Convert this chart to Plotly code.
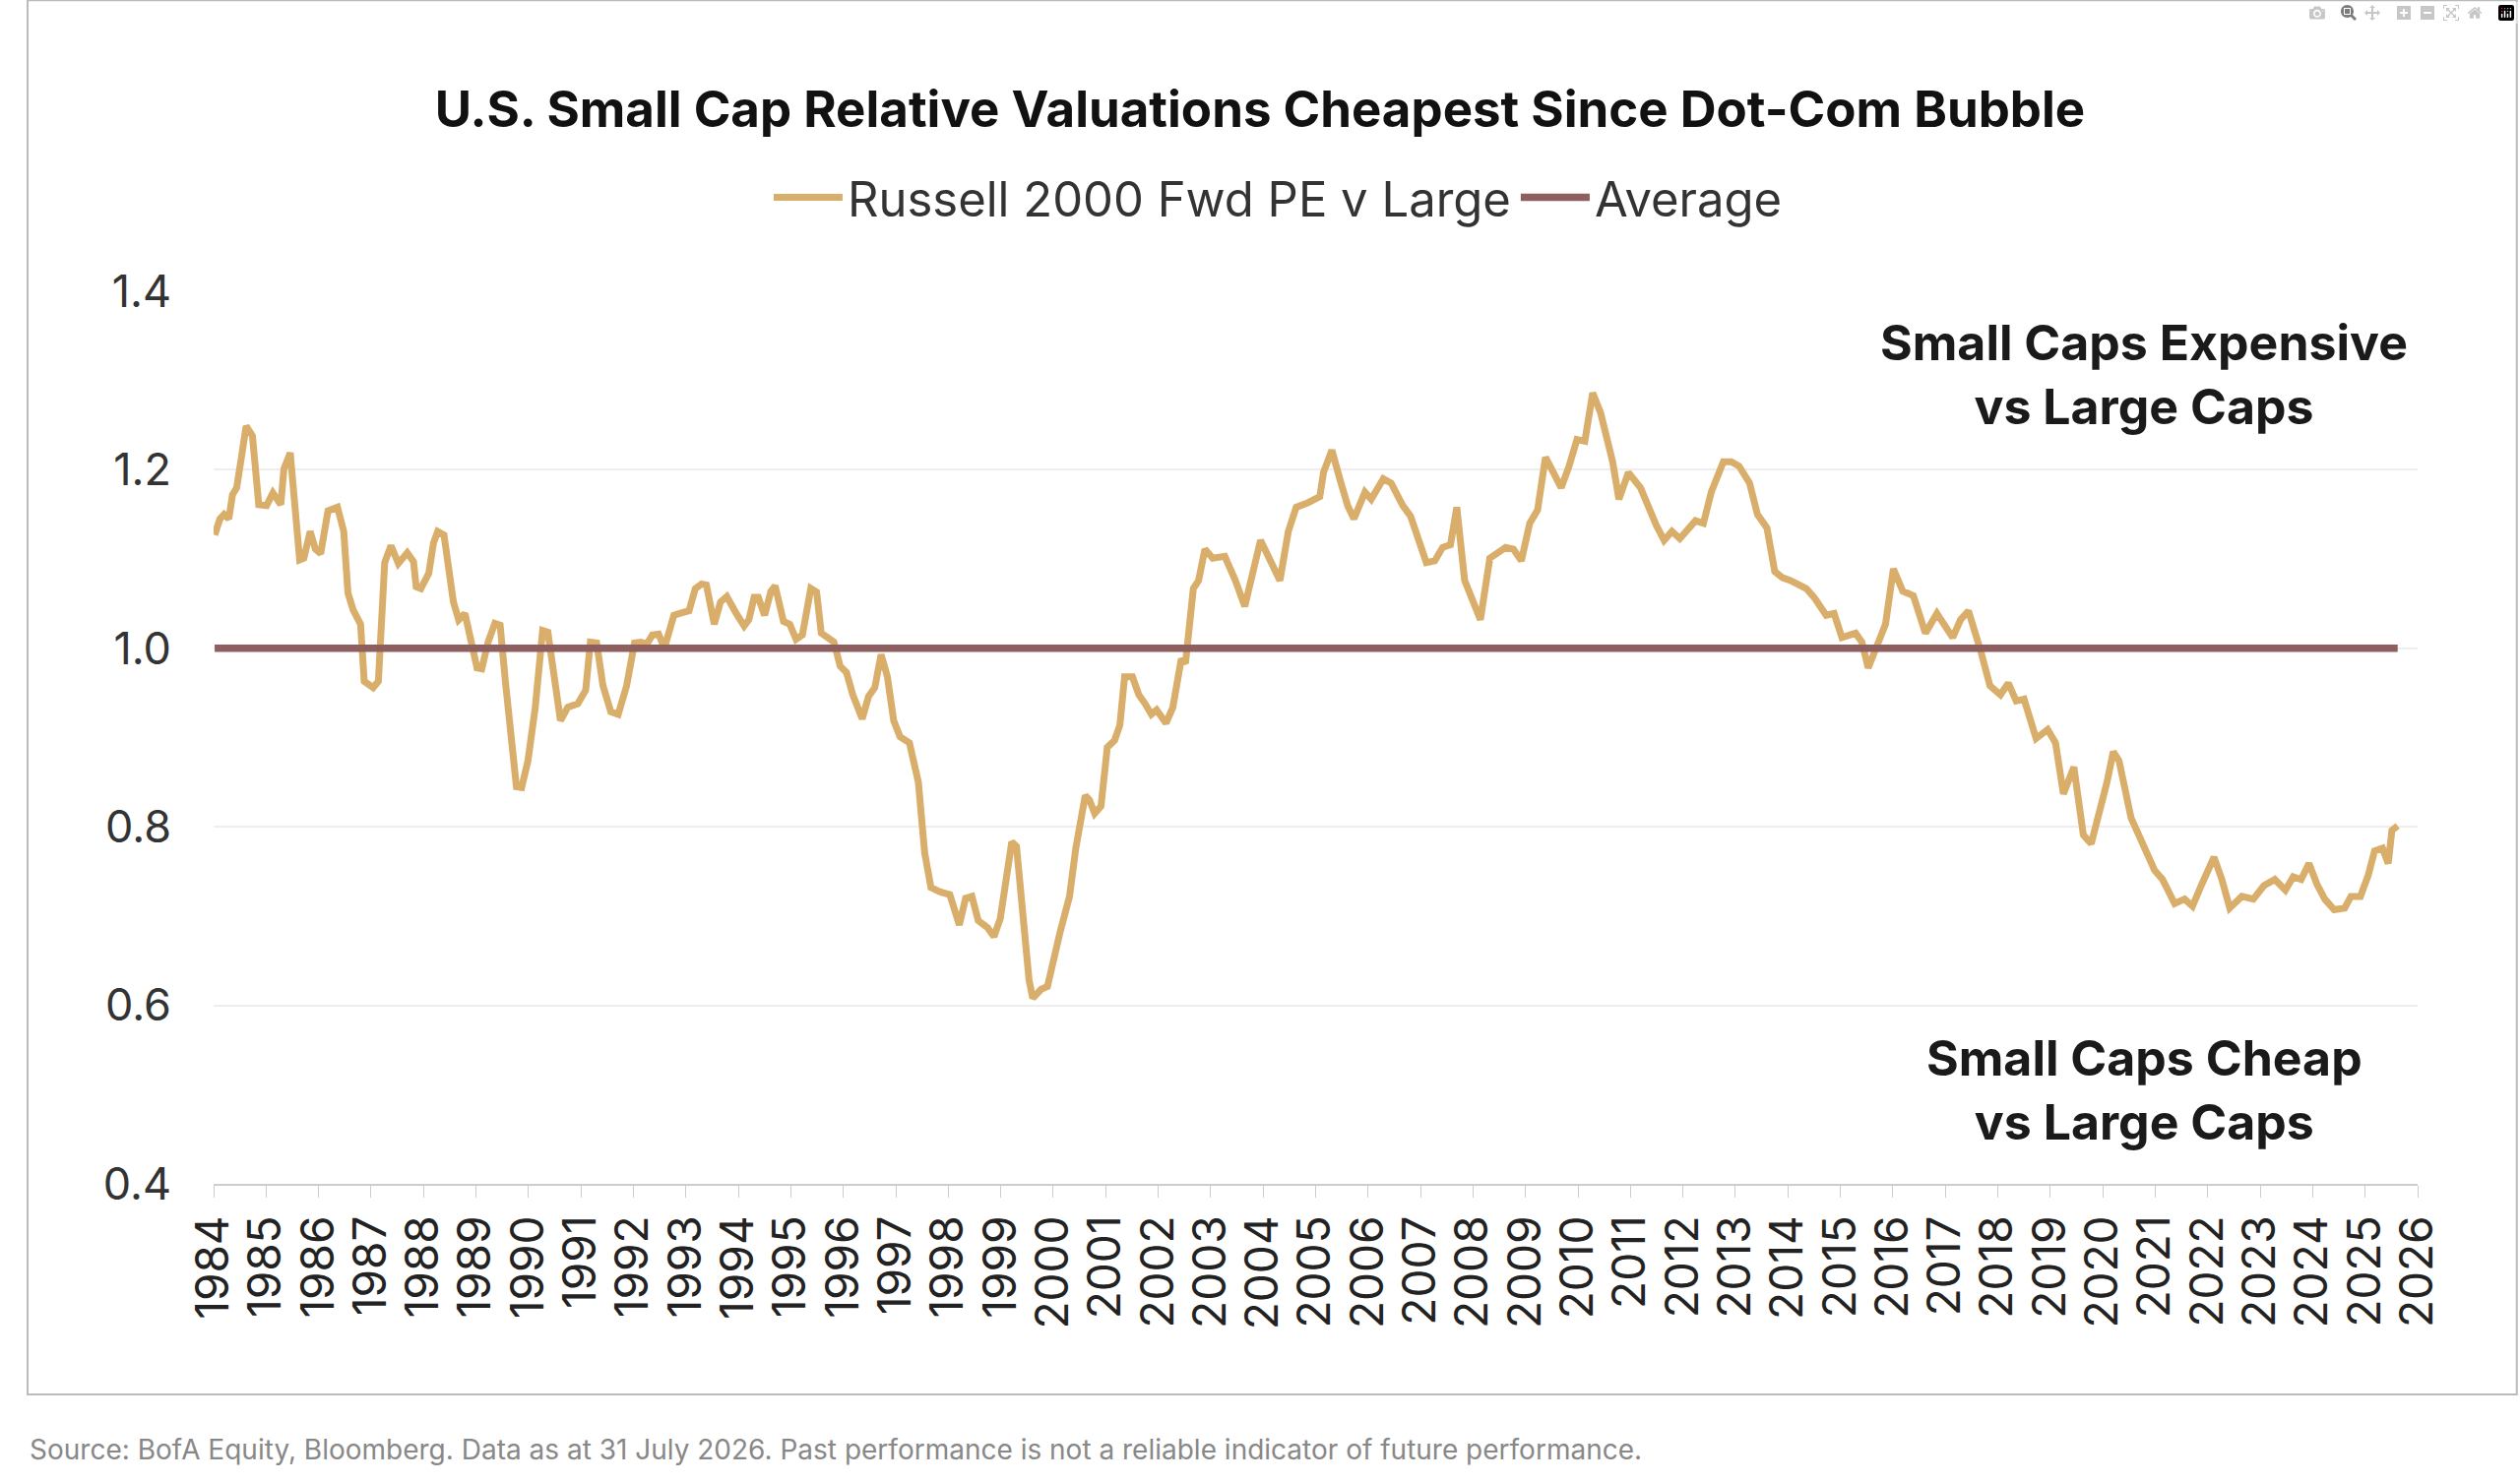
import plotly.graph_objects as go

years = [1984.02,1984.12,1984.20,1984.29,1984.36,1984.44,1984.53,1984.62,1984.74,1984.81,1984.86,1985.01,1985.13,1985.28,1985.34,1985.46,1985.56,1985.64,1985.72,1985.84,1985.94,1986.04,1986.18,1986.36,1986.48,1986.56,1986.66,1986.80,1986.87,1987.04,1987.14,1987.26,1987.38,1987.52,1987.69,1987.81,1987.86,1987.95,1988.10,1988.19,1988.27,1988.39,1988.57,1988.67,1988.79,1988.91,1989.02,1989.11,1989.23,1989.36,1989.46,1989.56,1989.65,1989.77,1989.87,1989.99,1990.13,1990.27,1990.37,1990.51,1990.61,1990.75,1990.94,1991.09,1991.18,1991.30,1991.42,1991.57,1991.71,1991.87,1992.02,1992.14,1992.26,1992.36,1992.48,1992.59,1992.77,1992.88,1993.06,1993.18,1993.30,1993.39,1993.54,1993.66,1993.78,1993.96,1994.11,1994.20,1994.30,1994.38,1994.50,1994.62,1994.70,1994.86,1994.98,1995.10,1995.22,1995.38,1995.49,1995.58,1995.70,1995.82,1995.94,1996.06,1996.18,1996.36,1996.48,1996.60,1996.72,1996.84,1996.96,1997.08,1997.26,1997.43,1997.55,1997.67,1997.85,1998.03,1998.21,1998.33,1998.45,1998.57,1998.75,1998.87,1998.99,1999.11,1999.21,1999.30,1999.42,1999.54,1999.61,1999.77,1999.89,2000.01,2000.13,2000.31,2000.43,2000.61,2000.69,2000.79,2000.91,2001.03,2001.17,2001.27,2001.36,2001.51,2001.63,2001.75,2001.87,2001.97,2002.15,2002.28,2002.44,
2002.52,2002.67,2002.77,2002.89,2003.04,2003.27,2003.47,2003.65,2003.95,2004.17,2004.32,2004.48,2004.63,2004.85,2005.08,2005.15,2005.31,2005.46,2005.61,2005.73,2005.94,2006.06,2006.29,2006.44,2006.66,2006.81,2006.96,2007.11,2007.27,2007.42,2007.57,2007.69,2007.84,2007.99,2008.14,2008.32,2008.47,2008.62,2008.77,2008.92,2009.08,2009.23,2009.38,2009.53,2009.68,2009.83,2009.98,2010.13,2010.28,2010.43,2010.66,2010.78,2010.96,2011.19,2011.34,2011.49,2011.64,2011.79,2011.94,2012.09,2012.24,2012.39,2012.54,2012.77,2012.92,2013.07,2013.27,2013.42,2013.60,2013.75,2013.90,2014.05,2014.20,2014.35,2014.50,2014.73,2014.88,2015.03,2015.29,2015.41,2015.53,2015.71,2015.86,2016.01,2016.19,2016.39,2016.62,2016.84,2016.99,2017.14,2017.29,2017.44,2017.67,2017.85,2018.05,2018.20,2018.35,2018.50,2018.73,2018.95,2019.10,2019.25,2019.45,2019.63,2019.78,2019.93,2020.08,2020.20,2020.31,2020.54,2020.69,2020.84,2020.99,2021.14,2021.37,2021.56,2021.71,2021.89,2022.12,2022.27,2022.42,2022.65,2022.87,2023.07,2023.28,2023.48,2023.63,2023.78,2023.93,2024.08,2024.23,2024.41,2024.61,2024.73,2024.91,2025.06,2025.18,2025.33,2025.44,2025.51,2025.62]

ratio = [1.127,1.145,1.150,1.145,1.172,1.180,1.214,1.249,1.238,1.185,1.161,1.160,1.174,1.161,1.201,1.219,1.145,1.099,1.101,1.131,1.111,1.106,1.154,1.158,1.131,1.062,1.043,1.027,0.963,0.956,0.963,1.096,1.115,1.095,1.107,1.097,1.069,1.067,1.084,1.118,1.131,1.127,1.052,1.032,1.039,1.007,0.978,0.977,1.007,1.028,1.026,0.963,0.904,0.845,0.844,0.874,0.934,1.020,1.018,0.963,0.919,0.934,0.938,0.953,1.007,1.006,0.958,0.929,0.926,0.958,1.006,1.007,1.005,1.015,1.016,1.000,1.037,1.039,1.042,1.067,1.072,1.071,1.027,1.052,1.058,1.039,1.025,1.032,1.057,1.057,1.037,1.064,1.070,1.030,1.027,1.010,1.015,1.067,1.063,1.017,1.012,1.007,0.980,0.973,0.948,0.921,0.946,0.956,0.993,0.968,0.919,0.901,0.894,0.850,0.771,0.732,0.727,0.724,0.690,0.720,0.722,0.695,0.687,0.677,0.697,0.751,0.783,0.778,0.707,0.628,0.608,0.618,0.621,0.653,0.682,0.722,0.776,0.835,0.830,0.815,0.823,0.889,0.897,0.914,0.968,0.968,0.948,0.938,0.926,0.931,0.916,0.934,0.988,
0.983,1.067,1.076,1.111,1.101,1.103,1.076,1.047,1.121,1.096,1.076,1.131,1.158,1.163,1.170,1.197,1.222,1.190,1.160,1.145,1.175,1.167,1.190,1.185,1.160,1.148,1.121,1.096,1.098,1.113,1.116,1.158,1.076,1.052,1.032,1.101,1.106,1.113,1.111,1.098,1.140,1.155,1.214,1.195,1.180,1.204,1.234,1.232,1.286,1.264,1.209,1.167,1.197,1.180,1.158,1.138,1.121,1.131,1.123,1.133,1.143,1.140,1.175,1.209,1.209,1.204,1.185,1.150,1.135,1.086,1.079,1.076,1.071,1.067,1.057,1.037,1.039,1.012,1.017,1.007,0.978,1.007,1.027,1.089,1.064,1.059,1.017,1.039,1.027,1.012,1.032,1.042,0.998,0.958,0.948,0.961,0.941,0.943,0.899,0.909,0.894,0.837,0.867,0.791,0.781,0.815,0.850,0.884,0.874,0.810,0.791,0.771,0.751,0.741,0.714,0.719,0.711,0.736,0.766,0.741,0.709,0.722,0.719,0.734,0.741,0.729,0.744,0.741,0.759,0.736,0.719,0.707,0.709,0.722,0.722,0.746,0.773,0.776,0.759,0.796,0.801]

average = 1.0
tick_years = list(range(1984, 2027))
y_ticks = [0.4, 0.6, 0.8, 1.0, 1.2, 1.4]

FONT = "Inter"
fig = go.Figure()
fig.add_trace(go.Scatter(x=years, y=ratio, mode="lines", name="Russell 2000 Fwd PE v Large",
                         line=dict(color="#D9AE6A", width=7)))
fig.add_trace(go.Scatter(x=[years[0], years[-1]], y=[average, average], mode="lines", name="Average",
                         line=dict(color="#8F5E5E", width=7.5)))

fig.update_layout(
    width=2560, height=1507, paper_bgcolor="white", plot_bgcolor="white",
    margin=dict(l=217, r=104, t=296, b=304),
    font=dict(family=FONT, color="#222"),
    title=dict(text="<b>U.S. Small Cap Relative Valuations Cheapest Since Dot-Com Bubble</b>",
               x=0.5, xanchor="center", y=0.926, yanchor="middle",
               font=dict(size=51, color="#111", family=FONT)),
    legend=dict(orientation="h", x=0.483, xanchor="center", y=1.105, yanchor="middle",
                font=dict(size=49, color="#333"), itemwidth=70, bgcolor="rgba(0,0,0,0)"),
    xaxis=dict(range=[1984, 2026], tickmode="array", tickvals=tick_years,
               ticktext=[str(t) for t in tick_years], tickangle=-90,
               tickfont=dict(size=46, color="#222"), showgrid=False,
               showline=True, linecolor="#cccccc", linewidth=2,
               ticks="outside", ticklen=12, tickcolor="#cccccc", zeroline=False),
    yaxis=dict(range=[0.4, 1.4], tickmode="array", tickvals=y_ticks,
               ticktext=[f"{v:.1f}" for v in y_ticks], tickfont=dict(size=45, color="#333"),
               showgrid=True, gridcolor="#eeeeee", gridwidth=2, zeroline=False, ticklabelstandoff=42),
    shapes=[dict(type="rect", xref="paper", yref="paper", x0=-0.0844, x1=1.045, y0=-0.236, y1=1.326,
                 line=dict(color="#bbbbbb", width=2), fillcolor="rgba(0,0,0,0)", layer="below")],
    annotations=[
        dict(text="<b>Small Caps Expensive<br>vs Large Caps</b>", xref="paper", yref="paper",
             x=0.876, y=0.907, xanchor="center", yanchor="middle", showarrow=False,
             font=dict(size=50, color="#1a1a1a"), align="center"),
        dict(text="<b>Small Caps Cheap<br>vs Large Caps</b>", xref="paper", yref="paper",
             x=0.876, y=0.105, xanchor="center", yanchor="middle", showarrow=False,
             font=dict(size=50, color="#1a1a1a"), align="center"),
        dict(text="Source: BofA Equity, Bloomberg. Data as at 31 July 2026. Past performance is not a reliable indicator of future performance.",
             xref="paper", yref="paper", x=-0.0844, y=-0.298, xanchor="left", yanchor="middle",
             showarrow=False, font=dict(size=28, color="#888")),
    ],
)
fig.write_html("out.html", post_script="document.body.style.margin='0';")
